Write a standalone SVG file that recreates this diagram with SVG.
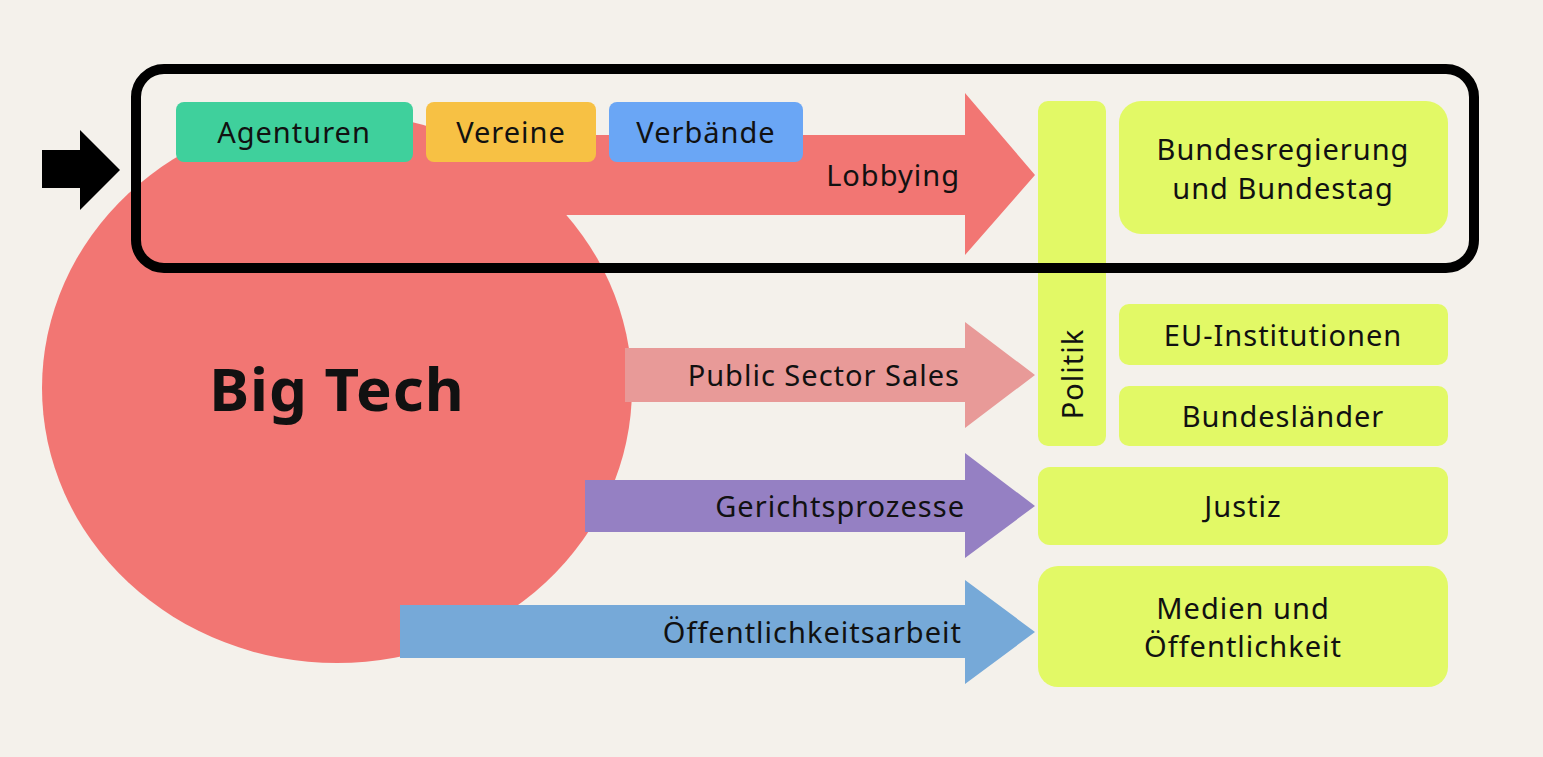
<svg xmlns="http://www.w3.org/2000/svg" width="1543" height="757" viewBox="0 0 1543 757">
<style>
text{font-family:"Noto Sans","DejaVu Sans",sans-serif;font-size:29px;fill:#111;letter-spacing:1px}
.t{fill:#e2f966}
.c{text-anchor:middle}
.r{text-anchor:end}
</style>
<rect width="1543" height="757" fill="#f4f1eb"/>
<g id="bigtech"><ellipse cx="337" cy="388" rx="295" ry="275" fill="#f27673"/>
<text x="337" y="411" class="c" style="font-size:60px;font-weight:bold">Big Tech</text></g>
<g id="connectors">
<polygon points="420,135 965,135 965,93 1035,175 965,255 965,215 420,215" fill="#f27673"/>
<text x="960" y="186" class="r">Lobbying</text>
<polygon points="625,348 965,348 965,322 1035,375 965,428 965,402 625,402" fill="#e89a98"/>
<text x="960" y="386" class="r">Public Sector Sales</text>
<polygon points="585,480 965,480 965,453 1035,506 965,558 965,532 585,532" fill="#9580c3"/>
<text x="965" y="517" class="r">Gerichtsprozesse</text>
<polygon points="400,605 965,605 965,580 1035,632 965,684 965,658 400,658" fill="#76a9d8"/>
<text x="962" y="643" class="r">Öffentlichkeitsarbeit</text>
<polygon points="42,150 80,150 80,130 120,170 80,210 80,188 42,188" fill="#000"/>
</g>
<g id="agenturen"><rect x="176" y="102" width="237" height="60" rx="8" fill="#3fd09c"/><text x="294" y="143" class="c">Agenturen</text></g>
<g id="vereine"><rect x="426" y="102" width="170" height="60" rx="8" fill="#f7c144"/><text x="511" y="143" class="c">Vereine</text></g>
<g id="verbaende"><rect x="609" y="102" width="194" height="60" rx="8" fill="#6aa6f5"/><text x="706" y="143" class="c">Verbände</text></g>
<g id="politik"><rect x="1038" y="101" width="68" height="345" rx="10" class="t"/><text transform="translate(1083,374) rotate(-90)" class="c">Politik</text></g>
<g id="bund"><rect x="1119" y="101" width="329" height="133" rx="22" class="t"/><text x="1283" y="160" class="c">Bundesregierung</text><text x="1283" y="199" class="c">und Bundestag</text></g>
<g id="eu"><rect x="1119" y="304" width="329" height="61" rx="10" class="t"/><text x="1283" y="346" class="c">EU-Institutionen</text></g>
<g id="laender"><rect x="1119" y="386" width="329" height="60" rx="10" class="t"/><text x="1283" y="427" class="c">Bundesländer</text></g>
<g id="justiz"><rect x="1038" y="467" width="410" height="78" rx="12" class="t"/><text x="1243" y="517" class="c">Justiz</text></g>
<g id="medien"><rect x="1038" y="566" width="410" height="121" rx="20" class="t"/><text x="1243" y="619" class="c">Medien und</text><text x="1243" y="657" class="c">Öffentlichkeit</text></g>
<g id="frame"><rect x="136" y="69" width="1338" height="199" rx="28" fill="none" stroke="#000" stroke-width="10"/></g>
</svg>
